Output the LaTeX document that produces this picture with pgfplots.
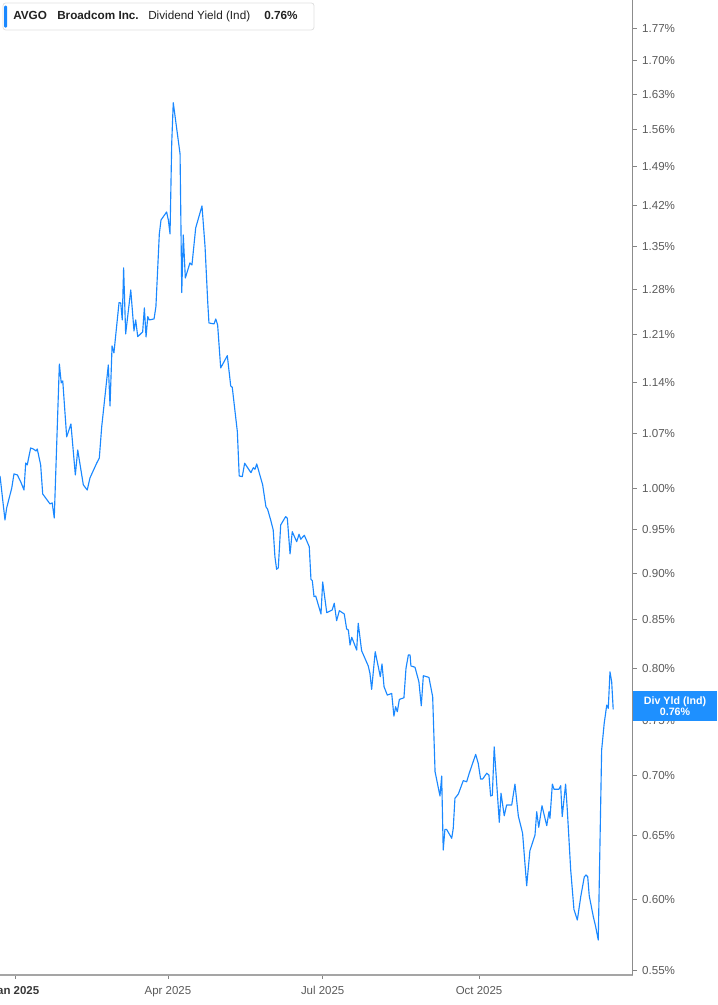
\documentclass[border=0pt]{standalone}
\usepackage{pgfplots}
\pgfplotsset{compat=1.18}
\usepackage{pgfplotstable}
\usepackage{fontspec}
\setmainfont{Liberation Sans}
\definecolor{linecol}{RGB}{26,136,255}
\definecolor{boxcol}{RGB}{30,144,255}
\definecolor{ticktext}{RGB}{90,90,90}
\definecolor{axcol}{RGB}{165,165,165}
\definecolor{titletext}{RGB}{34,34,34}

\pgfplotstableread{
day yld
-8.8 1.0153
-5.9 0.9614
-4.9 0.9758
-1.9 1.0003
-0.6 1.0179
1.4 1.0166
3.4 1.0078
5.3 0.9978
6.3 1.0318
7.2 1.0293
9.2 1.0512
10.8 1.0499
12.4 1.0473
13.1 1.0499
15.1 1.0293
16.3 0.9929
20.6 0.9807
21.9 0.9819
23.1 0.9638
26.1 1.1667
27.2 1.1396
28.1 1.1424
30.4 1.0657
32.9 1.0830
35.5 1.0166
36.9 1.0486
40.2 1.0041
42.5 0.9978
44.1 1.0128
48.1 1.0318
49.6 1.0383
51.0 1.0790
54.9 1.1653
55.9 1.1075
57.1 1.1931
58.2 1.1828
61.2 1.2589
62.2 1.2585
63.1 1.2322
63.9 1.3144
65.1 1.2110
68.1 1.2789
70.0 1.2155
71.0 1.2322
72.2 1.2069
75.1 1.2140
76.1 1.2507
77.1 1.2065
78.1 1.2373
79.0 1.2322
81.8 1.2337
82.9 1.2527
84.9 1.3710
85.9 1.3950
89.2 1.4089
90.2 1.3950
91.2 1.3710
92.2 1.5349
93.1 1.6136
97.1 1.5141
98.1 1.2747
99.0 1.3693
100.2 1.2981
102.9 1.3225
104.1 1.3193
106.3 1.3812
110.0 1.4195
111.8 1.3496
113.4 1.2585
114.1 1.2276
117.1 1.2261
118.1 1.2337
119.2 1.2246
121.0 1.1610
124.9 1.1788
126.9 1.1353
127.8 1.1335
130.8 1.0727
131.9 1.0153
133.7 1.0145
135.1 1.0315
138.8 1.0195
140.2 1.0258
141.2 1.0238
142.2 1.0306
145.7 1.0041
147.6 0.9774
148.6 0.9742
150.4 0.9614
151.9 0.9495
152.9 0.9186
153.9 0.9043
154.9 0.9061
156.3 0.9554
159.2 0.9653
160.2 0.9634
161.8 0.9217
163.1 0.9475
165.7 0.9358
167.1 0.9445
168.1 0.9386
170.2 0.9433
173.1 0.9300
174.1 0.8932
174.9 0.8916
175.9 0.8741
176.9 0.8748
180.0 0.8555
181.0 0.8902
183.4 0.8569
186.6 0.8598
187.8 0.8670
189.2 0.8484
190.8 0.8590
193.7 0.8555
195.1 0.8397
196.1 0.8387
197.1 0.8232
198.1 0.8311
201.0 0.8181
201.9 0.8457
203.9 0.8174
207.8 0.8021
208.8 0.7948
209.8 0.7792
211.9 0.8164
214.9 0.7915
215.9 0.8041
217.1 0.7817
219.0 0.7737
221.6 0.7753
222.9 0.7538
223.9 0.7626
224.9 0.7579
226.1 0.7696
228.8 0.7711
230.0 0.7998
231.4 0.8131
232.4 0.8131
232.9 0.8021
235.3 0.8008
237.6 0.7866
239.0 0.7635
240.2 0.7925
243.5 0.7909
245.7 0.7721
247.1 0.7035
250.0 0.6826
251.0 0.6997
251.9 0.6383
252.9 0.6549
253.9 0.6549
256.9 0.6477
257.8 0.6557
258.8 0.6806
260.8 0.6843
263.7 0.6957
265.7 0.6948
267.2 0.7021
271.0 0.7188
272.5 0.7108
273.9 0.6971
275.1 0.6971
277.5 0.7021
278.8 0.7006
279.8 0.6826
280.8 0.6832
281.9 0.7256
284.9 0.6607
285.9 0.6849
287.8 0.6661
289.2 0.6750
292.2 0.6750
294.1 0.6928
296.1 0.6658
298.6 0.6517
301.0 0.6106
302.9 0.6378
305.9 0.6503
306.9 0.6694
308.1 0.6566
310.0 0.6744
312.8 0.6579
314.1 0.6694
314.7 0.6639
316.1 0.6928
317.1 0.6883
320.0 0.6883
321.0 0.6914
321.9 0.6653
323.9 0.6928
324.9 0.6708
326.9 0.6227
328.8 0.5930
330.8 0.5852
332.8 0.6024
334.9 0.6175
335.9 0.6188
336.9 0.6175
337.8 0.6031
340.2 0.5876
341.6 0.5803
343.1 0.5709
345.1 0.7227
346.6 0.7470
348.1 0.7642
349.0 0.7610
350.0 0.7964
351.0 0.7866
351.9 0.7600
}\yielddata

\begin{document}
\begin{tikzpicture}
\begin{axis}[
  at={(0pt,22.5pt)}, anchor=south west,
  scale only axis, width=474.5pt, height=731.25pt,
  xmin=-8.82, xmax=363.35,
  ymode=log, ymin=0.5466, ymax=1.8329,
  axis x line=bottom, axis y line=right,
  x axis line style={-, draw=axcol, line width=1pt},
  y axis line style={-, draw=axcol!85!black, line width=0.8pt},
  xtick={0,90,181,273},
  xticklabels={{\color{darkgray!90!black}\bfseries Jan 2025}, Apr 2025, Jul 2025, Oct 2025},
  ytick={0.55,0.60,0.65,0.70,0.75,0.80,0.85,0.90,0.95,1.00,1.07,1.14,1.21,1.28,1.35,1.42,1.49,1.56,1.63,1.70,1.77},
  yticklabels={0.55\%,0.60\%,0.65\%,0.70\%,0.75\%,0.80\%,0.85\%,0.90\%,0.95\%,1.00\%,1.07\%,1.14\%,1.21\%,1.28\%,1.35\%,1.42\%,1.49\%,1.56\%,1.63\%,1.70\%,1.77\%},
  minor tick num=0,
  tick align=outside,
  major tick length=3pt,
  tick style={draw=axcol!80!black, line width=0.6pt},
  xticklabel style={font=\fontsize{8.6}{10}\selectfont, text=ticktext, anchor=base, inner sep=0pt, yshift=-11.6pt},
  yticklabel style={font=\fontsize{8.7}{10}\selectfont, text=ticktext, anchor=west, inner sep=0pt, xshift=3.9pt},
]
\addplot[color=linecol, line width=0.85pt, line join=round, mark=none] table[x=day, y=yld] {\yielddata};
\end{axis}
% last-value box
\fill[boxcol] (474.75pt,213pt) rectangle (537.75pt,235.5pt);
\node[text=white, font=\bfseries\fontsize{8}{8.4}\selectfont, align=center, inner sep=0pt] at (506.25pt,224.25pt) {Div Yld (Ind)\\0.76\%};
% title box
\draw[draw=black!12, fill=white, line width=0.6pt, rounded corners=2pt] (2.25pt,731.25pt) rectangle (235.5pt,751.5pt);
\fill[linecol, rounded corners=1pt] (3pt,733pt) rectangle (5.4pt,749.6pt);
\node[anchor=base west, inner sep=0pt, text=titletext, font=\bfseries\fontsize{8.8}{10}\selectfont] at (9.75pt,739pt) {AVGO};
\node[anchor=base west, inner sep=0pt, text=titletext, font=\bfseries\fontsize{8.8}{10}\selectfont] at (42.75pt,739pt) {Broadcom Inc.};
\node[anchor=base west, inner sep=0pt, text=titletext, font=\fontsize{8.8}{10}\selectfont] at (111pt,739pt) {Dividend Yield (Ind)};
\node[anchor=base west, inner sep=0pt, text=titletext, font=\bfseries\fontsize{8.8}{10}\selectfont] at (198pt,739pt) {0.76\%};
\pgfresetboundingbox
\useasboundingbox (0pt,0pt) rectangle (537.75pt,753.75pt);
\end{tikzpicture}
\end{document}
